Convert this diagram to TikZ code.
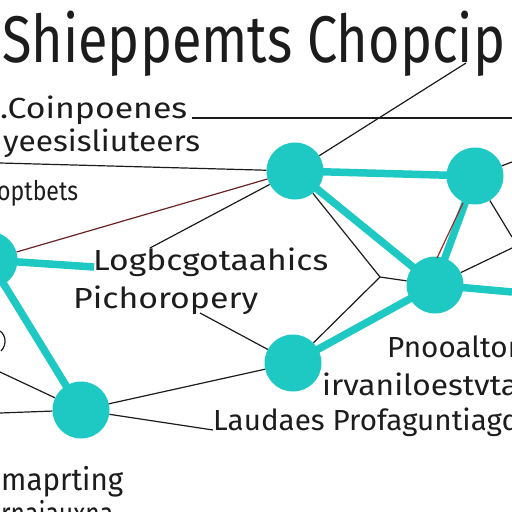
\documentclass[tikz,border=0pt]{standalone}
\usepackage{fontspec}
\setmainfont{Fira Sans}
\usepackage{graphicx}
\usetikzlibrary{calc}
\definecolor{hubT}{RGB}{30,201,196}
\definecolor{lineK}{RGB}{28,28,28}
\definecolor{lineR}{RGB}{160,40,40}
\pgfdeclarelayer{back}
\pgfsetlayers{back,main}
% squeeze a label to the width it has in the drawing
\newcommand{\fitw}[2]{\resizebox{#1pt}{\height}{#2}}
\tikzset{hub/.style={circle, fill=hubT, minimum size=57pt, inner sep=0pt},
  link/.style={hubT, line width=7.5pt},
  wire/.style={lineK, line width=1.2pt},
  lbl/.style={anchor=base west, inner sep=0pt, text=lineK, font=\fontsize{29}{30}\selectfont}}

\begin{document}
\begin{tikzpicture}[x=1pt, y=-1pt]
\clip (0,0) rectangle (512,512);
% hubs
\node[hub] (a) at (295,171) {};
\node[hub] (b) at (475,176) {};
\node[hub] (c) at (435,285) {};
\node[hub] (d) at (293,363) {};
\node[hub] (e) at (81,410) {};
\node[hub] (f) at (-11,260) {};
% labels
\node[lbl, font=\fontsize{66}{66}\selectfont] (ttl) at (2,62) {\fitw{503}{Shieppemts Chopcip}};
\node[lbl] (coin) at (0,118) {\fitw{187}{.Coinpoenes}};
\node[lbl] (yees) at (3,151) {\fitw{197}{yeesisliuteers}};
\node[lbl, font=\fontsize{27}{28}\selectfont] (optb) at (-3,200) {\fitw{81}{optbets}};
\node[lbl] (logb) at (93,270) {\fitw{235}{Logbcgotaahics}};
\node[lbl] (pich) at (73,308) {\fitw{185}{Pichoropery}};
\node[lbl] (pnoo) at (387,357) {\fitw{132}{Pnooaltor}};
\node[lbl] (irva) at (322,395) {\fitw{196}{irvaniloestvta}};
\node[lbl] (laud) at (213,430) {\fitw{306}{Laudaes Profaguntiagd}};
\node[lbl, font=\fontsize{31}{32}\selectfont] (mapr) at (1,490) {\fitw{122}{maprting}};
\node[lbl, font=\fontsize{31}{32}\selectfont] (mlow) at (1,524) {\fitw{112}{rnaiauxna}};
% free ends of the wires
\coordinate (tA) at (466,63);
\coordinate (cE) at (192,118);
\coordinate (rE) at (512,118);
\coordinate (y0) at (0,163);
\coordinate (lg) at (150,248);
\coordinate (jn) at (380,277);
\coordinate (pc) at (200,313);
\coordinate (l1) at (0,372);
\coordinate (l2) at (0,413);
\coordinate (r1) at (512,162);
\coordinate (r2) at (512,237);
\coordinate (r3) at (512,248);
\coordinate (q1) at (437,258);
\coordinate (q2) at (463,203);
\coordinate (rc) at (512,292);
\coordinate (lw) at (94,267);
\begin{pgfonlayer}{back}
\fill[white] (0,0) rectangle (512,512);
% thick teal links
\draw[link] (a.center) -- (b.center);
\draw[link] (a.center) -- (c.center);
\draw[link] (b.center) -- (c.center);
\draw[link] (c.center) -- (rc);
\draw[link] (c.center) -- (d.center);
\draw[link] (f.center) -- (e.center);
\draw[link] (f.center) -- (lw);
\end{pgfonlayer}
% thin wires
\draw[wire] (tA) -- (a);
\draw[wire] (cE) -- (rE);
\draw[wire] (y0) -- (a);
\draw[wire, lineR!60!lineK] (f) -- (a);
\draw[wire] (lg) -- (a);
\draw[wire] (a) -- (jn) -- (c);
\draw[wire] (jn) -- (d);
\draw[wire] (pc) -- (d);
\draw[wire] (d) -- (e);
\draw[wire] (e) -- (laud.base west);
\draw[wire] (l1) -- (e);
\draw[wire] (l2) -- (e);
\draw[wire] (b) -- (r1);
\draw[wire] (b) -- (r2);
\draw[wire] (c) -- (r3);
\draw[wire, lineR] (q1) -- (q2);
\draw[wire] (0,331) .. controls (6,335) and (7,345) .. (1,351);
\end{tikzpicture}
\end{document}
